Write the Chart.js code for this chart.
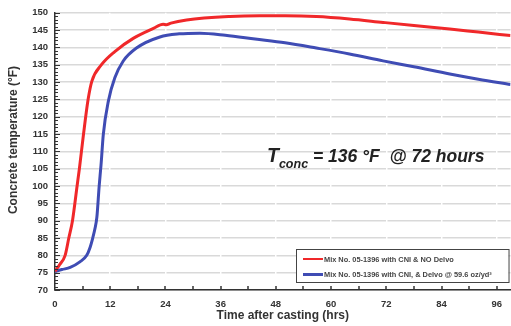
<!DOCTYPE html>
<html>
<head>
<meta charset="utf-8">
<script src="https://cdn.jsdelivr.net/npm/chart.js@4"></script>
<style>
  html, body { margin: 0; padding: 0; background: #fff; }
  #wrap { width: 511px; height: 326px; }
</style>
</head>
<body>
<div id="wrap"><canvas id="c"></canvas></div>
<script>
/* Temperatura del hormigón vs. tiempo tras el vaciado */

const redHours  = [0, 1, 2.2, 3.0, 3.8, 4.8, 5.3, 6.2, 7.2, 8.0, 10.1, 13.0, 17.0, 21.4, 23.5, 24.2, 25.2, 28.6, 38.0, 44.5, 50, 56.8, 64, 71.3, 78, 85.8, 92, 99];
const redTemps  = [75.4, 77.3, 80.0, 85.0, 90.0, 100.0, 105.0, 115.0, 125.0, 130.2, 135.0, 138.8, 142.6, 145.5, 146.7, 146.5, 147.0, 147.9, 148.9, 149.1, 149.1, 148.9, 148.2, 147.2, 146.3, 145.3, 144.4, 143.4];

const blueHours = [0, 1.5, 3.3, 5.4, 6.9, 7.6, 8.2, 8.7, 9.1, 9.6, 10.0, 10.5, 11.6, 13.0, 14.8, 17.7, 22.8, 27, 31.5, 37, 43.5, 50, 56.8, 64, 71.3, 78, 85.8, 92, 99];
const blueTemps = [75.3, 75.9, 76.5, 78.1, 80.0, 82.2, 85.0, 87.8, 91.0, 100.0, 106.0, 114.9, 124.5, 131.2, 136.0, 139.8, 143.0, 143.9, 144.1, 143.5, 142.4, 141.3, 139.8, 138.1, 136.1, 134.4, 132.3, 130.8, 129.3];

const seriesLabels = ['Mix No. 05-1396 with CNI & NO Delvo', 'Mix No. 05-1396 with CNI, & Delvo @ 59.6 oz/yd³'];
const seriesColors = ['#f0282a', '#3f4cb4'];

const xTickValues = [0, 12, 24, 36, 48, 60, 72, 84, 96];
const xMin = 0, xMax = 99, xMinorStep = 6;
const yMin = 70, yMax = 150, yStep = 5, yMinorStep = 1;

const FONT = '"Liberation Sans", Arial, sans-serif';
const INK = '#333';

const toXY = (xs, ys) => xs.map((x, i) => ({ x, y: ys[i] }));

/* marcas menores hacia adentro (como el original) */
const minorTicks = {
  id: 'minorTicks',
  afterDraw(chart) {
    const { ctx, chartArea, scales: { x, y } } = chart;
    ctx.save();
    ctx.strokeStyle = INK;
    ctx.lineWidth = 1;
    for (let v = yMin; v <= yMax; v += yMinorStep) {
      const py = Math.round(y.getPixelForValue(v)) + 0.5;
      const len = v % yStep === 0 ? 5 : 3;
      ctx.beginPath();
      ctx.moveTo(chartArea.left, py);
      ctx.lineTo(chartArea.left + len, py);
      ctx.stroke();
    }
    ctx.lineWidth = 1.5;
    for (let v = xMin + xMinorStep; v <= xMax; v += xMinorStep) {
      const px = Math.round(x.getPixelForValue(v));
      ctx.beginPath();
      ctx.moveTo(px, chartArea.bottom);
      ctx.lineTo(px, chartArea.bottom - 4);
      ctx.stroke();
    }
    ctx.restore();
  },
};

/* título del eje Y, algo por encima del centro como en el original */
const yTitle = {
  id: 'yTitle',
  afterDraw(chart) {
    const { ctx } = chart;
    ctx.save();
    ctx.translate(14, 140);
    ctx.rotate(-Math.PI / 2);
    ctx.fillStyle = INK;
    ctx.font = 'bold 12px ' + FONT;
    ctx.textAlign = 'center';
    ctx.textBaseline = 'middle';
    ctx.fillText('Concrete temperature (°F)', 0, 0);
    ctx.restore();
  },
};

/* leyenda dentro del área, abajo a la derecha */
const boxLegend = {
  id: 'boxLegend',
  afterDraw(chart) {
    const { ctx, chartArea } = chart;
    const left = 296, top = 249, w = chartArea.right - 2 - left, h = 33;
    ctx.save();
    ctx.fillStyle = '#fff';
    ctx.fillRect(left, top, w, h);
    ctx.strokeStyle = '#444';
    ctx.lineWidth = 1;
    ctx.strokeRect(left + 0.5, top + 0.5, w, h);
    ctx.font = 'bold 7.4px ' + FONT;
    ctx.textBaseline = 'middle';
    chart.data.datasets.forEach((ds, i) => {
      const yy = top + 10 + i * 15.5;
      ctx.strokeStyle = ds.borderColor;
      ctx.lineWidth = i === 0 ? 2 : 3;
      ctx.beginPath();
      ctx.moveTo(303, yy);
      ctx.lineTo(323, yy);
      ctx.stroke();
      ctx.fillStyle = '#444';
      ctx.fillText(ds.label, 324, yy + 0.5);
    });
    ctx.restore();
  },
};

/* anotación T_conc */
const noteLabel = {
  id: 'noteLabel',
  afterDraw(chart) {
    const { ctx } = chart;
    let x = 267;
    const base = 162;
    ctx.save();
    ctx.fillStyle = '#222';
    ctx.textBaseline = 'alphabetic';
    ctx.font = 'italic bold 19.5px ' + FONT;
    ctx.fillText('T', x, base);
    x += ctx.measureText('T').width;
    ctx.font = 'italic bold 12.5px ' + FONT;
    ctx.fillText('conc', x, base + 6);
    x += ctx.measureText('conc').width;
    ctx.font = 'italic bold 17.5px ' + FONT;
    ctx.fillText(' = 136 °F  @ 72 hours', x, base);
    ctx.restore();
  },
};

new Chart(document.getElementById('c'), {
  type: 'line',
  data: {
    datasets: [
      { label: seriesLabels[0], data: toXY(redHours, redTemps), borderColor: seriesColors[0], backgroundColor: seriesColors[0] },
      { label: seriesLabels[1], data: toXY(blueHours, blueTemps), borderColor: seriesColors[1], backgroundColor: seriesColors[1] },
    ].map((d) => ({ ...d, borderWidth: 3, pointRadius: 0, cubicInterpolationMode: 'monotone', fill: false })),
  },
  options: {
    responsive: true, maintainAspectRatio: false,
    animation: false,
    layout: { padding: { top: 11, right: 0, left: 0, bottom: 0 } },
    plugins: { legend: { display: false }, tooltip: { enabled: false } },
    scales: {
      y: {
        min: yMin, max: yMax,
        afterFit: (s) => { s.width = 55; },
        grid: { color: '#d9d9d9', lineWidth: 1.5, drawTicks: false },
        border: { color: INK, width: 1.5 },
        ticks: { stepSize: yStep, padding: 7, color: INK, font: { family: FONT, size: 9.5, weight: 'bold' } },
      },
      x: {
        type: 'linear', min: xMin, max: xMax,
        afterFit: (s) => { s.height = 36; },
        afterBuildTicks: (s) => { s.ticks = xTickValues.map((value) => ({ value })); },
        grid: { color: '#ffffff', lineWidth: 1.5, drawTicks: false },
        border: { color: INK, width: 1.5 },
        ticks: { padding: 9, color: INK, font: { family: FONT, size: 9.5, weight: 'bold' } },
        title: { display: true, text: 'Time after casting (hrs)', color: INK, padding: { top: 0, bottom: 3 },
                 font: { family: FONT, size: 12, weight: 'bold' } },
      },
    },
  },
  plugins: [minorTicks, yTitle, boxLegend, noteLabel],
});
</script>
</body>
</html>
